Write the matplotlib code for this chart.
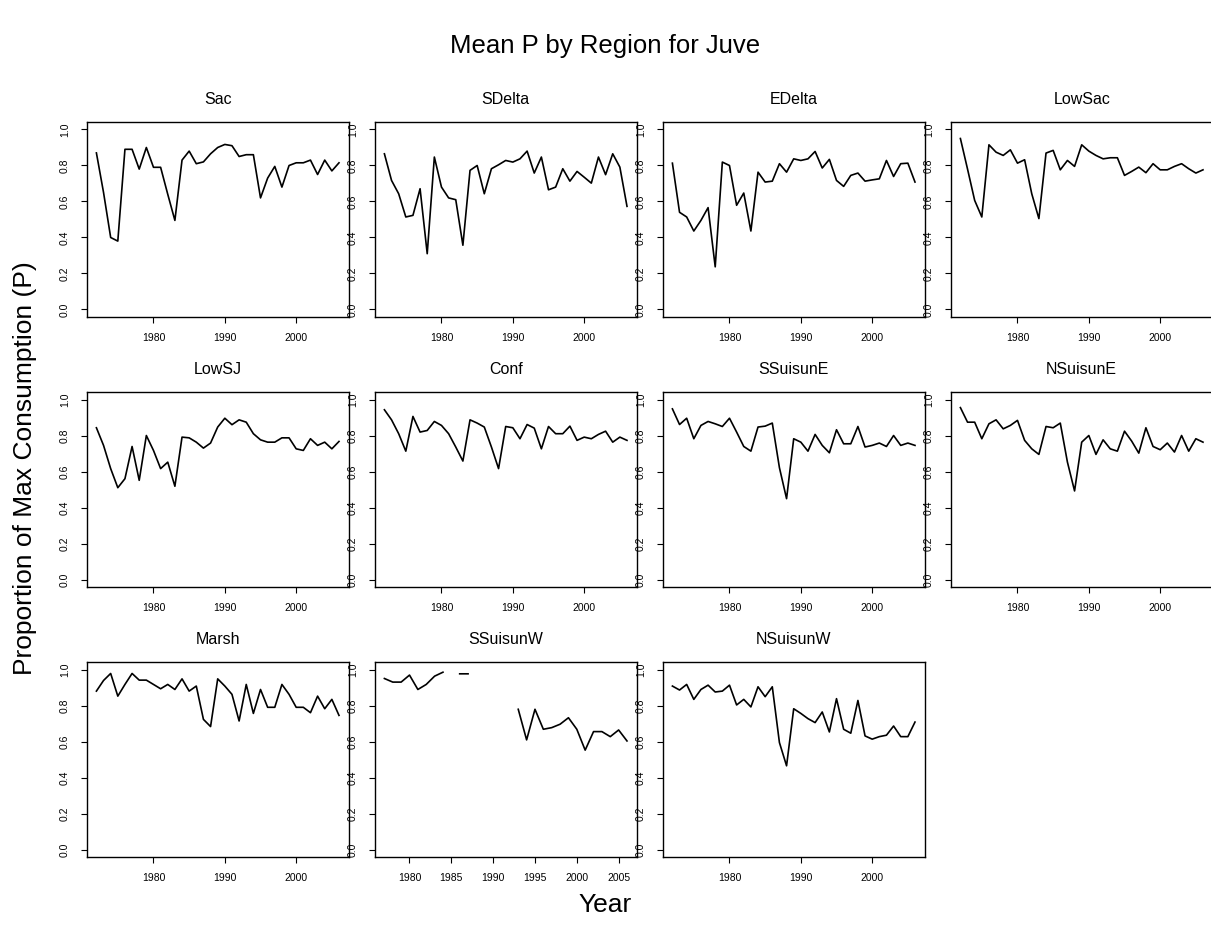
import numpy as np
import matplotlib
matplotlib.use("Agg")
from matplotlib import pyplot as plt

plt.rcParams['font.family'] = ['Liberation Sans', 'DejaVu Sans']

years = np.arange(1972, 2007)
years_w = np.arange(1977, 2007)
nan = np.nan

regions = ['Sac', 'SDelta', 'EDelta', 'LowSac', 'LowSJ', 'Conf',
           'SSuisunE', 'NSuisunE', 'Marsh', 'SSuisunW', 'NSuisunW']

sac = [0.87, 0.65, 0.40, 0.38, 0.89, 0.89, 0.78, 0.90, 0.79, 0.79, 0.64, 0.495,
       0.83, 0.88, 0.81, 0.82, 0.865, 0.90, 0.917, 0.91, 0.85, 0.86, 0.86, 0.62,
       0.73, 0.795, 0.68, 0.80, 0.815, 0.815, 0.83, 0.75, 0.83, 0.77, 0.815]
sdelta = [0.865, 0.717, 0.643, 0.514, 0.523, 0.671, 0.31, 0.847, 0.68, 0.62, 0.61,
          0.357, 0.773, 0.80, 0.643, 0.782, 0.804, 0.828, 0.819, 0.837, 0.88, 0.758,
          0.847, 0.665, 0.68, 0.782, 0.713, 0.767, 0.735, 0.702, 0.847, 0.749, 0.865,
          0.791, 0.573]
edelta = [0.813, 0.54, 0.514, 0.436, 0.495, 0.566, 0.237, 0.819, 0.80, 0.579, 0.647,
          0.436, 0.763, 0.708, 0.713, 0.81, 0.763, 0.837, 0.828, 0.837, 0.878, 0.786,
          0.834, 0.717, 0.684, 0.745, 0.758, 0.713, 0.72, 0.726, 0.828, 0.739, 0.81,
          0.813, 0.708]
lowsac = [0.95, 0.78, 0.606, 0.514, 0.915, 0.874, 0.856, 0.887, 0.813, 0.832, 0.643,
          0.505, 0.869, 0.884, 0.776, 0.828, 0.795, 0.915, 0.88, 0.856, 0.837, 0.843,
          0.843, 0.745, 0.767, 0.791, 0.76, 0.81, 0.776, 0.776, 0.795, 0.81, 0.782,
          0.758, 0.776]
lowsj = [0.843, 0.745, 0.616, 0.51, 0.56, 0.739, 0.551, 0.80, 0.717, 0.616, 0.652,
         0.518, 0.791, 0.787, 0.763, 0.73, 0.758, 0.847, 0.896, 0.86, 0.887, 0.874,
         0.81, 0.776, 0.763, 0.763, 0.787, 0.787, 0.726, 0.717, 0.782, 0.745, 0.763,
         0.726, 0.767]
conf = [0.943, 0.887, 0.81, 0.713, 0.906, 0.819, 0.828, 0.878, 0.856, 0.81, 0.736,
        0.658, 0.887, 0.869, 0.847, 0.736, 0.616, 0.85, 0.843, 0.782, 0.861, 0.841,
        0.726, 0.85, 0.81, 0.81, 0.852, 0.773, 0.791, 0.782, 0.806, 0.824, 0.763,
        0.791, 0.773]
ssuisune = [0.948, 0.861, 0.896, 0.782, 0.856, 0.878, 0.865, 0.85, 0.896, 0.819,
            0.739, 0.713, 0.847, 0.852, 0.869, 0.621, 0.449, 0.782, 0.763, 0.713,
            0.806, 0.745, 0.704, 0.832, 0.754, 0.754, 0.85, 0.736, 0.745, 0.758,
            0.739, 0.80, 0.745, 0.758, 0.745]
nsuisune = [0.955, 0.874, 0.874, 0.782, 0.865, 0.887, 0.837, 0.856, 0.884, 0.773,
            0.726, 0.695, 0.85, 0.843, 0.869, 0.652, 0.492, 0.763, 0.80, 0.695,
            0.776, 0.726, 0.713, 0.824, 0.769, 0.702, 0.843, 0.739, 0.721, 0.758,
            0.708, 0.80, 0.713, 0.782, 0.763]
marsh = [0.88, 0.939, 0.978, 0.852, 0.917, 0.978, 0.941, 0.941, 0.917, 0.893, 0.917,
         0.889, 0.948, 0.88, 0.908, 0.723, 0.683, 0.948, 0.908, 0.862, 0.714, 0.917,
         0.756, 0.889, 0.79, 0.79, 0.917, 0.862, 0.79, 0.79, 0.76, 0.852, 0.782,
         0.834, 0.745]
ssuisunw = [0.95, 0.93, 0.93, 0.969, 0.889, 0.917, 0.963, 0.985, nan, 0.976, 0.976,
            nan, nan, nan, nan, nan, 0.779, 0.609, 0.779, 0.668, 0.677, 0.696, 0.732,
            0.668, 0.552, 0.655, 0.655, 0.627, 0.664, 0.603]
nsuisunw = [0.908, 0.886, 0.917, 0.834, 0.889, 0.913, 0.875, 0.88, 0.913, 0.803,
            0.834, 0.792, 0.904, 0.849, 0.904, 0.594, 0.465, 0.782, 0.756, 0.727,
            0.705, 0.764, 0.653, 0.838, 0.668, 0.646, 0.828, 0.631, 0.613, 0.627,
            0.635, 0.686, 0.627, 0.627, 0.708]

series = [sac, sdelta, edelta, lowsac, lowsj, conf, ssuisune, nsuisune,
          marsh, ssuisunw, nsuisunw]

W, H = 1211, 941
fig = plt.figure(figsize=(W / 100, H / 100), dpi=100)

lefts = [86.7, 374.7, 662.7, 950.7]
tops = [122.3, 392.3, 662.3]
pw, ph = 262, 194.4

for k, name in enumerate(regions):
    r, c = divmod(k, 4)
    ax = fig.add_axes([lefts[c] / W, 1 - (tops[r] + ph) / H, pw / W, ph / H])
    if name == 'SSuisunW':
        x = years_w
        xt = [1980, 1985, 1990, 1995, 2000, 2005]
    else:
        x = years
        xt = [1980, 1990, 2000]
    y = np.array(series[k], dtype=float)
    ax.plot(x, y, color='black', lw=1.2)
    span = x[-1] - x[0]
    ax.set_xlim(x[0] - 0.04 * span, x[-1] + 0.04 * span)
    ax.set_ylim(-0.04, 1.04)
    ax.set_xticks(xt)
    ax.set_xticklabels([str(v) for v in xt], fontsize=7.5)
    ax.set_yticks([0.0, 0.2, 0.4, 0.6, 0.8, 1.0])
    ax.set_yticklabels(['0.0', '0.2', '0.4', '0.6', '0.8', '1.0'],
                       fontsize=7.5, rotation=90, va='center')
    ax.tick_params(direction='out', length=4, width=0.8, pad=8)
    for s in ax.spines.values():
        s.set_linewidth(1.0)
    ax.set_title(name, fontsize=11.5, pad=13)

fig.text(0.5, 1 - 46 / H, 'Mean P by Region for Juve', ha='center', va='center',
         fontsize=18.5)
fig.text(25 / W, 1 - 468 / H, 'Proportion of Max Consumption (P)', ha='center',
         va='center', rotation=90, fontsize=19)
fig.text(0.5, 1 - 905 / H, 'Year', ha='center', va='center', fontsize=19)

fig.savefig('out.png', dpi=100)
